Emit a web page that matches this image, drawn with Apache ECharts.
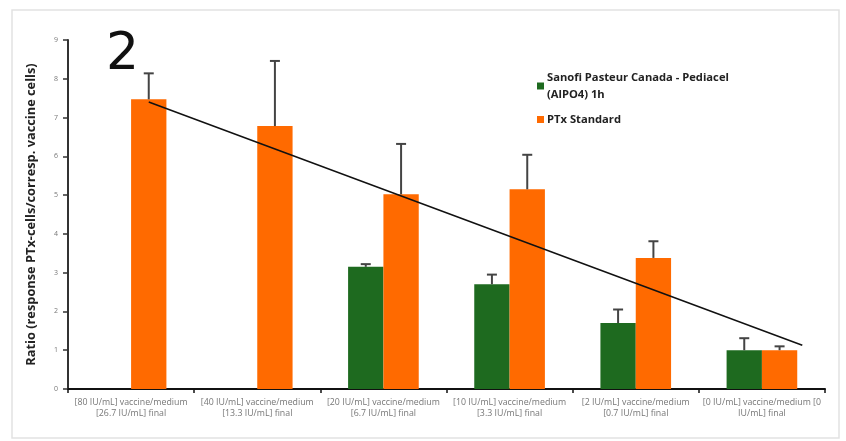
<!DOCTYPE html>
<html><head><meta charset="utf-8">
<script src="https://cdn.jsdelivr.net/npm/echarts@6/dist/echarts.min.js"></script>
<style>html,body{margin:0;padding:0;background:#fff}#c{width:846px;height:441px}</style>
</head><body><div id="c"></div>
<script>
var categories = [
  "[80 IU/mL] vaccine/medium\n[26.7 IU/mL] final",
  "[40 IU/mL] vaccine/medium\n[13.3 IU/mL] final",
  "[20 IU/mL] vaccine/medium\n[6.7 IU/mL] final",
  "[10 IU/mL] vaccine/medium\n[3.3 IU/mL] final",
  "[2 IU/mL] vaccine/medium\n[0.7 IU/mL] final",
  "[0 IU/mL] vaccine/medium [0\nIU/mL] final"
];
var sanofiValues = [null, null, 3.15, 2.70, 1.70, 1.00];
var sanofiErrTop = [null, null, 3.22, 2.95, 2.05, 1.31];
var ptxValues = [7.47, 6.78, 5.02, 5.15, 3.38, 1.00];
var ptxErrTop = [8.14, 8.46, 6.32, 6.04, 3.81, 1.10];
var trendLine = [[0.64, 7.40], [5.82, 1.13]];
var yTicks = [0, 9, 1];
var seriesNames = ["Sanofi Pasteur Canada - Pediacel (AlPO4) 1h", "PTx Standard"];

var chart = echarts.init(document.getElementById('c'), null, {renderer: 'canvas'});
var GREEN = '#1e6a1f', ORANGE = '#ff6a00';
var GAP = 0.44;

function errSeries(vals, tops, side) {
  var d = vals.map(function (v, i) { return v == null ? null : [i, v, tops[i]]; }).filter(Boolean);
  return {
    type: 'custom', xAxisIndex: 0, yAxisIndex: 0, z: 5, silent: true,
    data: d,
    renderItem: function (params, api) {
      var w = api.size([1, 0])[0] * (1 - GAP) / 2;
      var base = api.coord([api.value(0), api.value(1)]);
      var top = api.coord([api.value(0), api.value(2)]);
      var x = base[0] + side * w / 2;
      var style = {stroke: '#444', lineWidth: 2};
      return {type: 'group', children: [
        {type: 'line', shape: {x1: x, y1: base[1], x2: x, y2: top[1]}, style: style},
        {type: 'line', shape: {x1: x - 5, y1: top[1], x2: x + 5, y2: top[1]}, style: style}
      ]};
    }
  };
}

chart.setOption({
  animation: false,
  textStyle: {fontFamily: 'Open Sans'},
  graphic: [
    {type: 'rect', shape: {x: 12, y: 10, width: 827, height: 428}, style: {fill: 'none', stroke: '#e2e2e2', lineWidth: 1.5}, z: -1},
    {type: 'text', left: 106, top: 29, style: {text: '2', font: '52px "DejaVu Sans"', fill: '#111'}}
  ],
  grid: {left: 68, right: 21, top: 40, bottom: 52},
  legend: {
    orient: 'vertical', left: 532, top: 64, itemWidth: 7, itemHeight: 7, itemGap: 8,
    icon: 'rect',
    data: seriesNames,
    formatter: function (n) { return n === seriesNames[0] ? 'Sanofi Pasteur Canada - Pediacel\n(AlPO4) 1h' : n; },
    textStyle: {fontSize: 11.2, fontWeight: 'bold', color: '#222', lineHeight: 17, padding: [0, 0, 0, -2]}
  },
  xAxis: [{
    type: 'category', data: categories,
    axisLine: {lineStyle: {color: '#111', width: 2}},
    axisTick: {show: true, length: 4, lineStyle: {color: '#111', width: 1.5}},
    axisLabel: {fontSize: 8.8, color: '#777', lineHeight: 11, margin: 8, interval: 0},
    splitLine: {show: false}
  }, {
    type: 'value', min: 0, max: 6, show: false
  }],
  yAxis: {
    type: 'value', min: yTicks[0], max: yTicks[1], interval: yTicks[2],
    name: 'Ratio (response PTx-cells/corresp. vaccine cells)',
    nameLocation: 'middle', nameGap: 30,
    nameTextStyle: {fontSize: 12.8, fontWeight: 'bold', color: '#222'},
    axisLine: {show: true, lineStyle: {color: '#333', width: 2}},
    axisTick: {show: true, length: 5, lineStyle: {color: '#333', width: 1.5}},
    axisLabel: {fontSize: 7, color: '#777', margin: 10},
    splitLine: {show: false}
  },
  series: [
    {name: seriesNames[0], type: 'bar', data: sanofiValues, itemStyle: {color: GREEN}, barGap: 0, barCategoryGap: (GAP * 100) + '%'},
    {name: seriesNames[1], type: 'bar', data: ptxValues, itemStyle: {color: ORANGE}, barGap: 0, barCategoryGap: (GAP * 100) + '%'},
    errSeries(sanofiValues, sanofiErrTop, -1),
    errSeries(ptxValues, ptxErrTop, 1),
    {type: 'line', xAxisIndex: 1, yAxisIndex: 0, data: trendLine, symbol: 'none', z: 6,
     lineStyle: {color: '#111', width: 1.5}}
  ]
});
</script></body></html>
